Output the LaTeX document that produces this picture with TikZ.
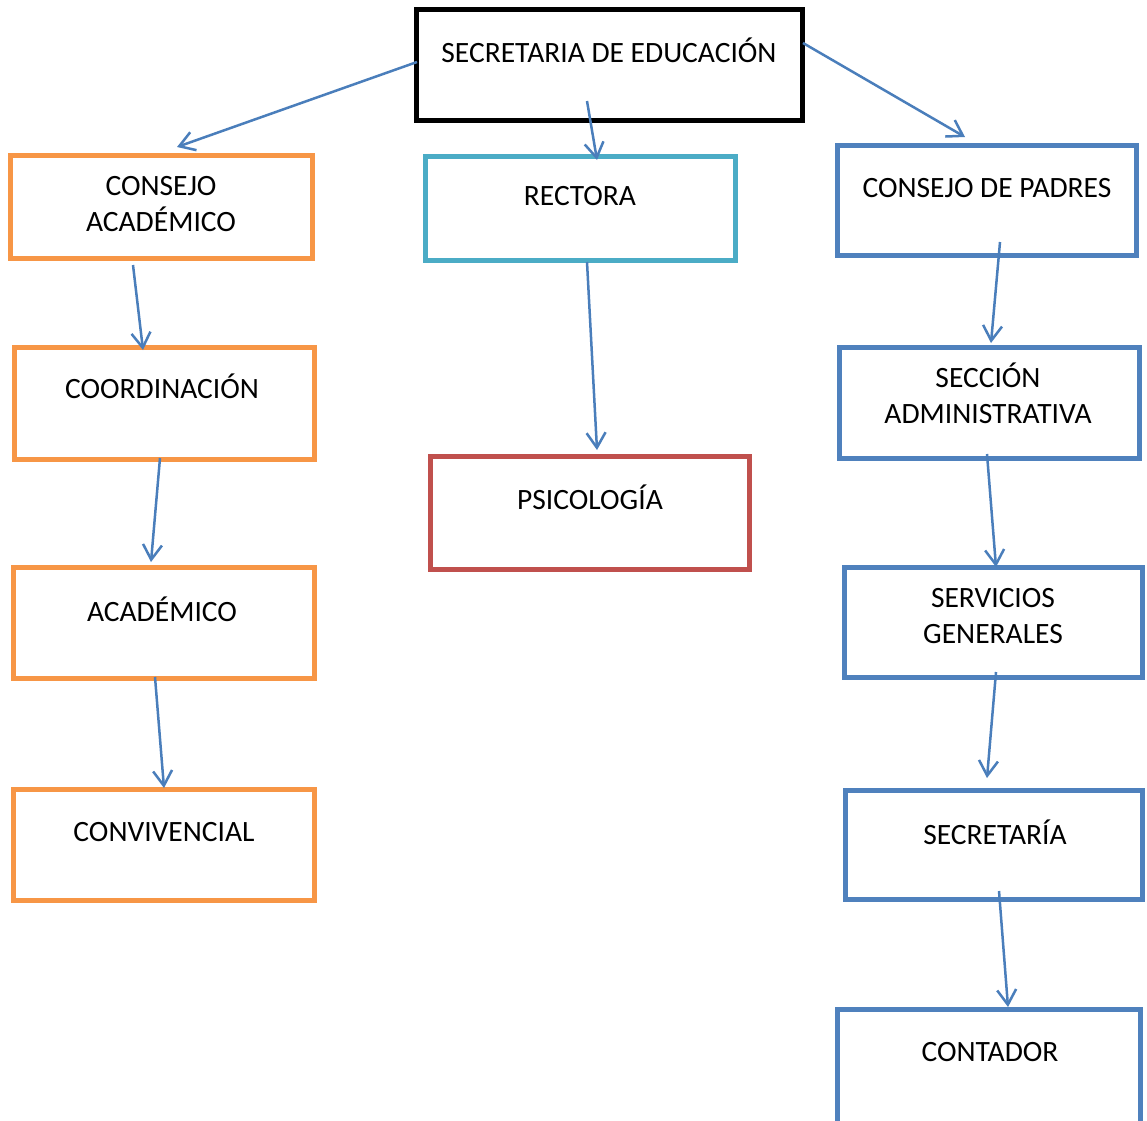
\documentclass[tikz,border=0pt]{standalone}
\usepackage{fontspec}
\setmainfont{Carlito}
\usetikzlibrary{arrows.meta,calc}

\definecolor{naranja}{HTML}{F79646}
\definecolor{turquesa}{HTML}{4BACC6}
\definecolor{azul}{HTML}{4F81BD}
\definecolor{rojo}{HTML}{C0504D}
\definecolor{flechazul}{HTML}{4A7EBB}

\begin{document}
\begin{tikzpicture}[x=1pt, y=-1pt, every node/.style={font=\fontsize{29.5}{36}\selectfont},
  caja/.style={draw=#1, line width=5pt},
  texto/.style={anchor=base, align=center, inner sep=0pt},
  flecha/.style={draw=flechazul, line width=2.5pt, -{Straight Barb[length=15pt, width=19pt]}}]
  \useasboundingbox (0,0) rectangle (1147,1120);

  % Secretaria de educacion (arriba)
  \node[caja=black, minimum width=386pt, minimum height=111pt] (secedu) at (609.5,65) {};
  \node[texto] (secedu-t) at (609,62) {SECRETARIA DE EDUCACIÓN};

  % Columna izquierda - naranja
  \node[caja=naranja, minimum width=302pt, minimum height=103pt] (consejoac) at (161.5,207) {};
  \node[texto] (consejoac-t) at (161,231) {CONSEJO\\ACADÉMICO};
  \node[caja=naranja, minimum width=300pt, minimum height=112pt] (coord) at (164.5,403.5) {};
  \node[texto] (coord-t) at (162,398) {COORDINACIÓN};
  \node[caja=naranja, minimum width=301pt, minimum height=111pt] (academico) at (164,623) {};
  \node[texto] (academico-t) at (162,621) {ACADÉMICO};
  \node[caja=naranja, minimum width=301pt, minimum height=111pt] (conviv) at (164,845) {};
  \node[texto] (conviv-t) at (164,841) {CONVIVENCIAL};

  % Columna central
  \node[caja=turquesa, minimum width=310pt, minimum height=104pt] (rectora) at (580.5,208.5) {};
  \node[texto] (rectora-t) at (580,205) {RECTORA};
  \node[caja=rojo, minimum width=319pt, minimum height=113pt] (psico) at (590,513) {};
  \node[texto] (psico-t) at (590,509) {PSICOLOGÍA};

  % Columna derecha - azul
  \node[caja=azul, minimum width=299pt, minimum height=110pt] (padres) at (987,200.5) {};
  \node[texto] (padres-t) at (987,197) {CONSEJO DE PADRES};
  \node[caja=azul, minimum width=300pt, minimum height=111pt] (seccion) at (989.5,403) {};
  \node[texto] (seccion-t) at (988,423) {SECCIÓN\\ADMINISTRATIVA};
  \node[caja=azul, minimum width=298pt, minimum height=110pt] (servicios) at (993.5,622.5) {};
  \node[texto] (servicios-t) at (993,643) {SERVICIOS\\GENERALES};
  \node[caja=azul, minimum width=297pt, minimum height=109pt] (secretaria) at (994,845) {};
  \node[texto] (secretaria-t) at (995,844) {SECRETARÍA};
  % el borde inferior queda fuera de la pagina
  \node[caja=azul, minimum width=303pt, minimum height=120pt] (contador) at (989,1069.5) {};
  \node[texto] (contador-t) at (990,1061) {CONTADOR};

  % Flechas desde arriba
  \draw[flecha] ($(secedu.west)+(3,-3)$) -- ($(consejoac.north)+(15.5,-6)$);
  \draw[flecha] ($(secedu.south)+(-22.5,-22)$) -- ($(rectora.north)+(16.5,6)$);
  \draw[flecha] ($(secedu.east)+(-2,-22)$) -- ($(padres.north)+(-22,-6)$);

  % Flechas columna izquierda
  \draw[flecha] ($(consejoac.south)+(-28.5,4)$) -- ($(coord.north)+(-21.5,5)$);
  \draw[flecha] ($(coord.south)+(-4.5,-4)$) -- ($(academico.north)+(-13,-3)$);
  \draw[flecha] ($(academico.south)+(-9,-4)$) -- ($(conviv.north)+(0,1)$);

  % Flecha central
  \draw[flecha] ($(rectora.south)+(6.5,-1)$) -- ($(psico.north)+(7,-4)$);

  % Flechas columna derecha
  \draw[flecha] ($(padres.south)+(13,-16)$) -- ($(seccion.north)+(1.5,-2)$);
  \draw[flecha] ($(seccion.south)+(-2.5,-7)$) -- ($(servicios.north)+(2.5,2)$);
  \draw[flecha] ($(servicios.south)+(2.5,-8)$) -- ($(secretaria.north)+(-7,-10)$);
  \draw[flecha] ($(secretaria.south)+(5,-11)$) -- ($(contador.north)+(19,0)$);

\end{tikzpicture}
\end{document}
